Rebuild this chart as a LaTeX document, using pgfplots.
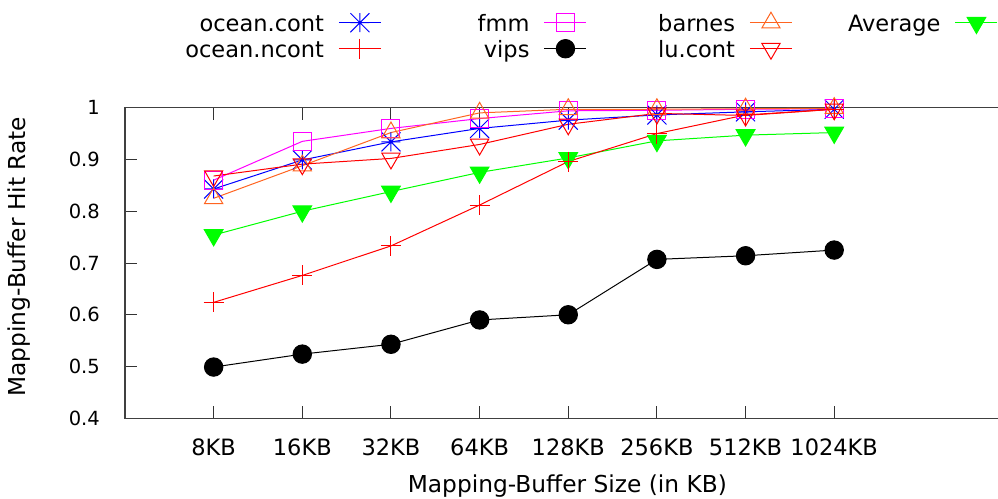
\documentclass[border=0pt]{standalone}
\usepackage{fontspec}
\setmainfont{DejaVu Sans}
\usepackage{pgfplots}
\pgfplotsset{compat=1.18}

\definecolor{cBlue}{RGB}{0,0,255}
\definecolor{cRed}{RGB}{255,0,0}
\definecolor{cMagenta}{RGB}{255,0,255}
\definecolor{cOrange}{RGB}{255,100,32}
\definecolor{cGreen}{RGB}{0,255,0}
\definecolor{cBorder}{RGB}{64,64,64}

% eight-spoke star: a plus and a cross
\pgfdeclareplotmark{gpstar}{%
  \pgfpathmoveto{\pgfqpoint{-\pgfplotmarksize}{0pt}}%
  \pgfpathlineto{\pgfqpoint{\pgfplotmarksize}{0pt}}%
  \pgfpathmoveto{\pgfqpoint{0pt}{-\pgfplotmarksize}}%
  \pgfpathlineto{\pgfqpoint{0pt}{\pgfplotmarksize}}%
  \pgfpathmoveto{\pgfqpoint{-\pgfplotmarksize}{-\pgfplotmarksize}}%
  \pgfpathlineto{\pgfqpoint{\pgfplotmarksize}{\pgfplotmarksize}}%
  \pgfpathmoveto{\pgfqpoint{-\pgfplotmarksize}{\pgfplotmarksize}}%
  \pgfpathlineto{\pgfqpoint{\pgfplotmarksize}{-\pgfplotmarksize}}%
  \pgfusepathqstroke}

\newcommand{\lab}{\fontsize{22.5}{26}\selectfont}
\newcommand{\axl}{\fontsize{23.3}{27}\selectfont}
\newcommand{\ytl}{\fontsize{19.5}{24}\selectfont}
\newcommand{\entry}[1]{\makebox[148pt][r]{\lab\strut #1}}

\begin{document}
\begin{tikzpicture}[x=1pt,y=1pt]
\begin{axis}[
  at={(125pt,79.7pt)}, anchor=south west,
  scale only axis, width=886.5pt, height=310.6pt,
  xmin=-1, xmax=9, ymin=0.4, ymax=1,
  axis line style={cBorder, line width=1.3pt},
  xtick={0,...,7},
  xticklabels={8KB,16KB,32KB,64KB,128KB,256KB,512KB,1024KB},
  ytick={0.4,0.5,0.6,0.7,0.8,0.9,1},
  yticklabels={0.4,0.5,0.6,0.7,0.8,0.9,1},
  tick align=inside,
  major tick length=12pt,
  every tick/.style={black!80, line width=1pt},
  xticklabel style={font=\lab, anchor=north, inner sep=0pt, yshift=-20pt},
  yticklabel style={font=\ytl, anchor=east, inner sep=0pt, xshift=-25pt},
  xlabel={Mapping-Buffer Size (in KB)},
  ylabel={Mapping-Buffer Hit Rate},
  every axis x label/.style={at={(axis description cs:0.499,-0.2395)}, anchor=base, font=\axl},
  every axis y label/.style={at={(axis description cs:-0.112,0.520)}, anchor=base, rotate=90, font=\axl},
  every axis plot/.append style={line width=1pt},
  legend columns=4,
  legend style={
    draw=none, fill=none, inner sep=0pt, outer sep=0pt,
    at={(axis description cs:0.0575,1.3087)}, anchor=north west,
    cells={anchor=center}, nodes={inner sep=0pt},
    /tikz/column sep=0pt, /tikz/row sep=0pt},
  legend plot pos=right,
  legend image code/.code={%
    \path[draw=none,fill=none] (0pt,-15.1pt) rectangle (57pt,10.9pt);
    \draw[mark repeat=2,mark phase=2,#1] plot coordinates {(15pt,0pt) (36pt,0pt) (57pt,0pt)};},
]

% row 1 of the key: ocean.cont, fmm, barnes, Average
\addplot[cBlue, mark=gpstar, mark size=9.5pt] coordinates {
  (0,0.843) (1,0.899) (2,0.934) (3,0.960) (4,0.976) (5,0.986) (6,0.992) (7,0.997)};
\addlegendentry{\entry{ocean.cont}}

\addplot[cMagenta, mark=square, mark size=9pt] coordinates {
  (0,0.860) (1,0.935) (2,0.960) (3,0.979) (4,0.994) (5,0.995) (6,0.997) (7,0.998)};
\addlegendentry{\entry{fmm}}

\addplot[cOrange, mark=triangle, mark size=10.5pt] coordinates {
  (0,0.825) (1,0.888) (2,0.952) (3,0.990) (4,0.997) (5,0.997) (6,0.998) (7,0.999)};
\addlegendentry{\entry{barnes}}

\addplot[cGreen, mark=triangle*, mark size=10.8pt, mark options={rotate=180, fill=cGreen}] coordinates {
  (0,0.754) (1,0.800) (2,0.838) (3,0.875) (4,0.903) (5,0.936) (6,0.947) (7,0.952)};
\addlegendentry{\entry{Average}}

% row 2 of the key: ocean.ncont, vips, lu.cont
\addplot[cRed, mark=+, mark size=10pt] coordinates {
  (0,0.624) (1,0.676) (2,0.733) (3,0.812) (4,0.896) (5,0.950) (6,0.986) (7,0.997)};
\addlegendentry{\entry{ocean.ncont}}

\addplot[black, mark=*, mark size=9.2pt, mark options={fill=black}] coordinates {
  (0,0.499) (1,0.524) (2,0.543) (3,0.590) (4,0.600) (5,0.707) (6,0.714) (7,0.725)};
\addlegendentry{\entry{vips}}

\addplot[cRed, mark=triangle, mark size=10.5pt, mark options={rotate=180}] coordinates {
  (0,0.868) (1,0.891) (2,0.902) (3,0.929) (4,0.968) (5,0.989) (6,0.985) (7,0.997)};
\addlegendentry{\entry{lu.cont}}

\end{axis}
\pgfresetboundingbox
\path[use as bounding box] (0,0) rectangle (998pt,498pt);
\end{tikzpicture}
\end{document}
